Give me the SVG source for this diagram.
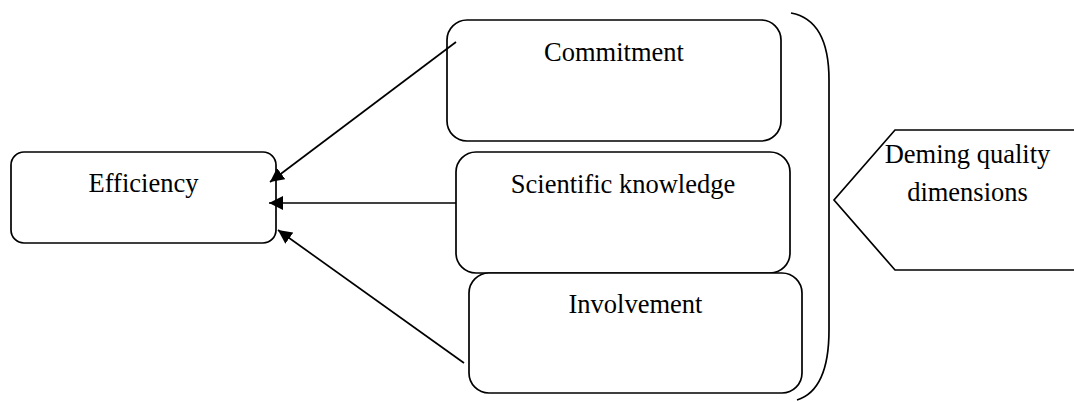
<svg xmlns="http://www.w3.org/2000/svg" width="1074" height="402" viewBox="0 0 1074 402">
<defs>
<style>
.box{fill:#fff;stroke:#000;stroke-width:1.7}
.lbl{font-family:"Liberation Serif","Times New Roman",serif;font-size:26.5px;fill:#000;text-anchor:middle}
.con{stroke:#000;stroke-width:1.7;fill:none}
</style>
<marker id="ah" markerUnits="userSpaceOnUse" markerWidth="15" markerHeight="14" refX="14" refY="7" orient="auto">
<path d="M0,0 L14,7 L0,14 z" fill="#000"/>
</marker>
</defs>
<rect width="1074" height="402" fill="#fff"/>
<g id="efficiency">
<rect class="box" x="11" y="152" width="265" height="91" rx="13"/>
<text class="lbl" x="143.5" y="192">Efficiency</text>
</g>
<g id="commitment">
<rect class="box" x="447" y="20" width="334" height="121" rx="20"/>
<text class="lbl" x="614" y="61">Commitment</text>
</g>
<g id="scientific">
<rect class="box" x="456" y="152" width="334" height="121" rx="20"/>
<text class="lbl" x="623" y="193">Scientific knowledge</text>
</g>
<g id="involvement">
<rect class="box" x="469" y="273" width="333" height="120" rx="20"/>
<text class="lbl" x="635.5" y="313">Involvement</text>
</g>
<g id="bracket">
<path class="con" d="M791,13 Q829,20 829,80 L829,330 Q829,390 797,400"/>
</g>
<g id="deming">
<path class="box" d="M1080,130 L895,130 L834,200 L895,270 L1080,270"/>
<text class="lbl" x="967.5" y="163">Deming quality</text>
<text class="lbl" x="967.5" y="201">dimensions</text>
</g>
<g id="connectors">
<line class="con" x1="456" y1="42" x2="270" y2="182" marker-end="url(#ah)"/>
<line class="con" x1="456" y1="203" x2="269" y2="203" marker-end="url(#ah)"/>
<line class="con" x1="464" y1="363" x2="278" y2="230" marker-end="url(#ah)"/>
</g>
</svg>
